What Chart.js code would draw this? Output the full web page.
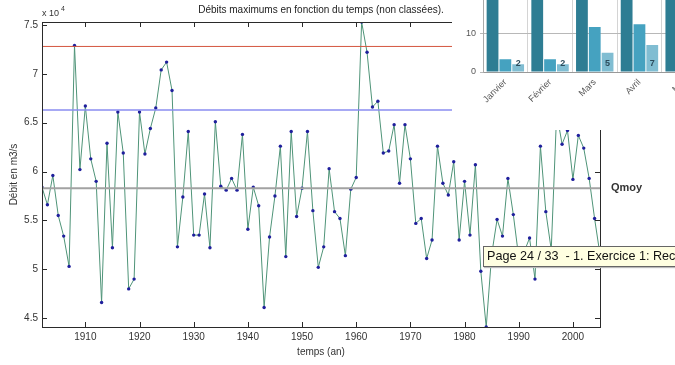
<!DOCTYPE html>
<html><head><meta charset="utf-8">
<script src="https://cdn.jsdelivr.net/npm/chart.js@4"></script>
<style>
html,body{margin:0;padding:0;background:#fff;overflow:hidden;width:675px;height:365px;}
#main{position:absolute;left:0;top:0;}
#inset{position:absolute;left:452px;top:0;width:223px;height:130px;overflow:hidden;background:#fff;}
#qmoy{position:absolute;left:611px;top:181px;font:bold 11px "Liberation Sans",Arial,sans-serif;color:#333;}
#tip{position:absolute;left:483px;top:246px;width:240px;height:19px;background:#ffffe1;border:1px solid #666;
 font:12.6px "Liberation Sans",Arial,sans-serif;color:#111;line-height:19px;padding-left:3px;white-space:pre;box-shadow:1px 1px 1px #bbb;}
</style></head>
<body>
<canvas id="main" width="675" height="365"></canvas>
<div id="qmoy">Qmoy</div>
<div id="inset"><canvas id="bars" width="260" height="130"></canvas></div>
<div id="tip">Page 24 / 33  - 1. Exercice 1: Rec</div>
<script>
// ---------- data (débits en 10^4 m3/s) ----------
const years = [1902,1903,1904,1905,1906,1907,1908,1909,1910,1911,1912,1913,1914,1915,1916,1917,1918,1919,
1920,1921,1922,1923,1924,1925,1926,1927,1928,1929,1930,1931,1932,1933,1934,1935,1936,1937,1938,1939,
1940,1941,1942,1943,1944,1945,1946,1947,1948,1949,1950,1951,1952,1953,1954,1955,1956,1957,1958,1959,
1960,1961,1962,1963,1964,1965,1966,1967,1968,1969,1970,1971,1972,1973,1974,1975,1976,1977,1978,1979,
1980,1981,1982,1983,1984,1985,1986,1987,1988,1989,1990,1991,1992,1993,1994,1995,1996,1997,1998,1999,
2000,2001,2002,2003,2004,2005];
const debits = [5.84,5.66,5.96,5.55,5.34,5.03,7.29,6.02,6.67,6.13,5.90,4.66,6.29,5.22,6.61,6.19,4.80,4.90,
6.61,6.18,6.44,6.65,7.04,7.12,6.83,5.23,5.74,6.41,5.35,5.35,5.77,5.22,6.51,5.85,5.81,5.93,5.81,6.38,
5.41,5.84,5.65,4.61,5.33,5.75,6.26,5.13,6.41,5.54,5.83,6.41,5.60,5.02,5.23,6.03,5.59,5.52,5.14,5.82,
5.94,7.53,7.22,6.66,6.72,6.19,6.21,6.48,5.88,6.48,6.13,5.47,5.52,5.11,5.30,6.26,5.88,5.76,6.10,5.30,
5.90,5.35,6.07,4.98,4.41,5.15,5.51,5.34,5.93,5.56,5.12,5.18,5.32,4.90,6.26,5.59,5.20,6.60,6.28,6.42,
5.92,6.37,6.24,5.93,5.52,5.15];
const xTickValues = [1910,1920,1930,1940,1950,1960,1970,1980,1990,2000];
const yTickValues = [4.5,5,5.5,6,6.5,7,7.5];
const seuilHaut = 7.28;
const seuilBleu = 6.63;
const qMoy = 5.83;

// inset bar chart data
const mois = ['Janvier','Février','Mars','Avril','Mai'];
const serieFonce = [20,20,20,20,20];
const serieMoyen = [3.3,3.3,11.7,12.4,null];
const serieClair = [2,2,5,7,null];
const insetTicks = [0,10];

const FONT = '"Liberation Sans", Arial, sans-serif';

function hline(v, color, w){
  return {type:'line', data:[{x:years[0],y:v},{x:years[years.length-1],y:v}],
    borderColor:color, borderWidth:w, pointRadius:0, fill:false};
}

const boxPlugin = {
  id:'box',
  afterDraw(chart){
    const {ctx, chartArea:a, scales:{x,y}} = chart;
    ctx.save();
    ctx.strokeStyle = '#2a2a2a'; ctx.lineWidth = 1;
    ctx.strokeRect(Math.round(a.left)+0.5, Math.round(a.top)+0.5, Math.round(a.right-a.left), Math.round(a.bottom-a.top));
    ctx.beginPath();
    x.ticks.forEach(t=>{
      const px = Math.round(x.getPixelForValue(t.value))+0.5;
      ctx.moveTo(px,a.bottom); ctx.lineTo(px,a.bottom-5);
      ctx.moveTo(px,a.top); ctx.lineTo(px,a.top+5);
    });
    y.ticks.forEach(t=>{
      const py = Math.round(y.getPixelForValue(t.value))+0.5;
      ctx.moveTo(a.left,py); ctx.lineTo(a.left+5,py);
      ctx.moveTo(a.right,py); ctx.lineTo(a.right-5,py);
    });
    ctx.stroke();
    ctx.fillStyle = '#333';
    ctx.font = '9px '+FONT;
    ctx.textBaseline = 'alphabetic';
    ctx.fillText('x 10', a.left+0, a.top-6);
    ctx.font = '7px '+FONT;
    ctx.fillText('4', a.left+19, a.top-11);
    ctx.restore();
  }
};

new Chart(document.getElementById('main'), {
  type:'line',
  data:{datasets:[
    hline(seuilHaut,'#d4553f',1),
    hline(seuilBleu,'#8a8cf0',1.5),
    hline(qMoy,'#a2a2a2',2),
    {type:'line', data: years.map((yr,i)=>({x:yr,y:debits[i]})),
     borderColor:'#4f9478', borderWidth:1, tension:0,
     pointRadius:1.7, pointBackgroundColor:'#1f1f9c', pointBorderColor:'#1f1f9c', pointBorderWidth:0, fill:false}
  ]},
  options:{
    responsive:false, animation:false, events:[],
    layout:{padding:{left:0,right:75,top:0,bottom:0}},
    plugins:{
      legend:{display:false}, tooltip:{enabled:false},
      title:{display:true, fullSize:false, text:'Débits maximums en fonction du temps (non classées).',
        color:'#222', font:{family:FONT,size:10,weight:'normal'}, padding:{top:4,bottom:6}}
    },
    scales:{
      x:{type:'linear', min:years[0], max:years[years.length-1],
        afterBuildTicks(s){ s.ticks = xTickValues.map(v=>({value:v})); },
        afterFit(s){ s.height = 38; },
        grid:{display:false, drawTicks:false}, border:{display:false},
        ticks:{font:{family:FONT,size:10}, color:'#333', padding:4, maxRotation:0, callback:v=>String(v)},
        title:{display:true, text:'temps (an)', color:'#333', font:{family:FONT,size:10}, padding:{top:0,bottom:7}}
      },
      y:{type:'linear', min:4.41, max:7.53,
        afterBuildTicks(s){ s.ticks = yTickValues.map(v=>({value:v})); },
        afterFit(s){ s.width = 42; },
        grid:{display:false, drawTicks:false}, border:{display:false},
        ticks:{font:{family:FONT,size:10}, color:'#333', padding:4, callback:v=>String(v)},
        title:{display:true, text:'Débit en m3/s', color:'#333', font:{family:FONT,size:10}, padding:{top:8,bottom:0}}
      }
    }
  },
  plugins:[boxPlugin]
});

const labelPlugin = {
  id:'barLabels',
  afterDatasetsDraw(chart){
    const {ctx, chartArea:a} = chart;
    const meta = chart.getDatasetMeta(2);
    ctx.save();
    ctx.fillStyle = '#2c4c5c';
    ctx.font = 'bold 9px '+FONT;
    ctx.textAlign = 'center'; ctx.textBaseline = 'middle';
    meta.data.forEach((bar,i)=>{
      const v = serieClair[i];
      if (v !== null) ctx.fillText(String(v), bar.x, a.bottom-8);
    });
    ctx.restore();
  }
};

new Chart(document.getElementById('bars'), {
  type:'bar',
  data:{labels:mois, datasets:[
    {data:serieFonce, backgroundColor:'#2e7d93'},
    {data:serieMoyen, backgroundColor:'#45a2c0'},
    {data:serieClair, backgroundColor:'#80bdd2'}
  ]},
  options:{
    responsive:false, animation:false, events:[],
    layout:{padding:{left:0,right:5.5,top:0,bottom:0}},
    datasets:{bar:{categoryPercentage:0.86, barPercentage:0.92}},
    plugins:{legend:{display:false}, tooltip:{enabled:false}},
    scales:{
      x:{afterFit(s){ s.height = 58; s.paddingLeft = 0; s.paddingRight = 0; },
        grid:{color:'#d4d4d4', drawTicks:false}, border:{color:'#999'},
        ticks:{font:{family:FONT,size:9}, color:'#555', minRotation:45, maxRotation:45, padding:5}
      },
      y:{min:0, max:18.7,
        afterBuildTicks(s){ s.ticks = insetTicks.map(v=>({value:v})); },
        afterFit(s){ s.width = 31; s.paddingTop = 0; s.paddingBottom = 0; },
        grid:{color:'#b8b8b8', tickLength:3}, border:{color:'#aaa'},
        ticks:{font:{family:FONT,size:9}, color:'#555', padding:4}
      }
    }
  },
  plugins:[labelPlugin]
});
</script>
</body></html>
